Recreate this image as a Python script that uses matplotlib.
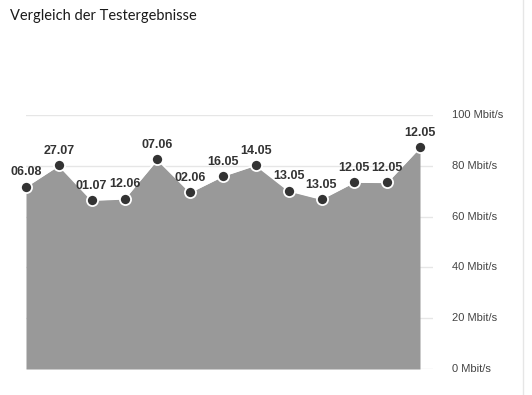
import matplotlib
matplotlib.use("Agg")
import matplotlib.pyplot as plt

dates = ["06.08", "27.07", "01.07", "12.06", "07.06", "02.06", "16.05",
         "14.05", "13.05", "13.05", "12.05", "12.05", "12.05"]
speeds = [71.8, 80.2, 66.5, 67.0, 82.5, 69.6, 76.0, 80.3, 70.2, 66.9, 73.6, 73.5, 87.3]
yticks = [0, 20, 40, 60, 80, 100]
ytick_labels = [f"{v} Mbit/s" for v in yticks]
title = "Vergleich der Testergebnisse"

W, H = 532, 395
fig = plt.figure(figsize=(W / 100, H / 100), dpi=100)
fig.patch.set_facecolor("white")

# axes geometry in pixels
x0, x1 = 26, 433
y_top, y_bot = 115, 369
ax = fig.add_axes([x0 / W, (H - y_bot) / H, (x1 - x0) / W, (y_bot - y_top) / H])
n = len(speeds)
xs = list(range(n))
step_px = (420 - 26) / (n - 1)
ax.set_xlim(0, (x1 - x0) / step_px)
ax.set_ylim(0, 100)
ax.set_facecolor("none")
for s in ax.spines.values():
    s.set_visible(False)
ax.set_xticks([])
ax.set_yticks(yticks)
ax.tick_params(axis="y", length=0, labelleft=False)
for v, lab in zip(yticks, ytick_labels):
    ax.axhline(v, color="#e6e6e6", lw=1, zorder=0)
    ax.text((452 - x0) / (x1 - x0), v, lab, transform=ax.get_yaxis_transform(),
            ha="left", va="center", fontsize=8, color="#444444",
            family="Liberation Sans", clip_on=False)

ax.fill_between(xs, 0, speeds, color="#999999", lw=0, zorder=2)
ax.plot(xs, speeds, color="white", lw=1.2, zorder=3, clip_on=False)
ax.plot(xs, speeds, "o", ms=8, mfc="#333333", mec="white", mew=1.3,
        zorder=4, clip_on=False)
for x, y, d in zip(xs, speeds, dates):
    ax.annotate(d, (x, y), xytext=(0, 6), textcoords="offset points",
                ha="center", va="bottom", fontsize=9, fontweight="bold",
                color="#333333", family="Liberation Sans", zorder=5)

fig.text(10 / W, 1 - 16 / H, title, ha="left", va="center", fontsize=10.5,
         fontweight="normal", color="#1a1a1a", family="Lato")
fig.add_artist(plt.Line2D([523 / W, 523 / W], [0, 1], color="#e6e6e6", lw=1))

fig.savefig("out.png", dpi=100)
